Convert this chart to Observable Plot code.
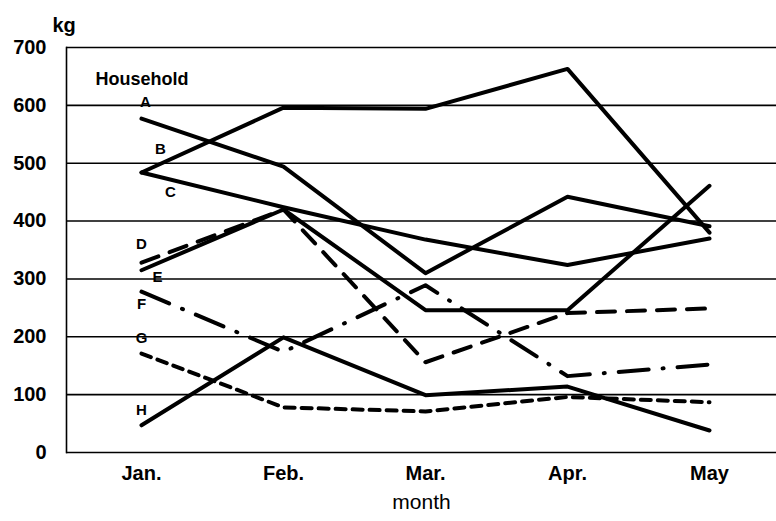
<!DOCTYPE html>
<html>
<head>
<meta charset="utf-8">
<script src="https://cdn.jsdelivr.net/npm/d3@7"></script>
<script src="https://cdn.jsdelivr.net/npm/@observablehq/plot@0.6"></script>
<style>
  html, body { margin: 0; padding: 0; background: #fff; }
  #chart svg { display: block; }
</style>
</head>
<body>
<div id="chart"></div>
<script>
const months = ["Jan.", "Feb.", "Mar.", "Apr.", "May"];
const households = ["A", "B", "C", "D", "E", "F", "G", "H"];
const seriesA = [577, 494, 310, 442, 391];
const seriesB = [484, 596, 594, 663, 380];
const seriesC = [484, 424, 368, 324, 370];
const seriesD = [328, 420, 156, 241, 249];
const seriesE = [315, 420, 246, 246, 461];
const seriesF = [278, 174, 289, 132, 152];
const seriesG = [171, 78, 71, 96, 87];
const seriesH = [47, 199, 99, 114, 38];
const yTicks = [0, 100, 200, 300, 400, 500, 600, 700];

const values = {A: seriesA, B: seriesB, C: seriesC, D: seriesD, E: seriesE, F: seriesF, G: seriesG, H: seriesH};
const rows = households.flatMap(h => months.map((m, i) => ({household: h, month: m, kg: values[h][i]})));
const firstPoints = households.map(h => ({household: h, month: months[0], kg: values[h][0]}));

const dash = {A: null, B: null, C: null, D: "18,12", E: null, F: "30,14,1,14", G: "10,7", H: null};
const labelOffset = {A: [4, -16], B: [19, -23], C: [29, 20], D: [0, -19], E: [16, 7], F: [0, 13], G: [0, -15], H: [0, -15]};

const font = "'Liberation Sans', Arial, sans-serif";

const lineMarks = households.map(h => Plot.lineY(rows.filter(d => d.household === h), {
  x: "month", y: "kg", stroke: "#000", strokeWidth: 4,
  strokeDasharray: dash[h] || undefined, strokeLinecap: "round", strokeLinejoin: "round"
}));

const labelMarks = households.map(h => Plot.text(firstPoints.filter(d => d.household === h), {
  x: "month", y: "kg", text: "household",
  dx: labelOffset[h][0], dy: labelOffset[h][1],
  fontSize: 15, fontWeight: "bold", fill: "#000"
}));

const chart = Plot.plot({
  width: 776,
  height: 521,
  marginLeft: 66,
  marginRight: 0,
  marginTop: 47,
  marginBottom: 69,
  style: {fontFamily: font, background: "#fff", color: "#000"},
  x: {type: "point", domain: months, range: [139, 710], padding: 0, label: null},
  y: {domain: [0, 700], label: null},
  marks: [
    Plot.gridY(yTicks, {stroke: "#000", strokeOpacity: 1, strokeWidth: 1.6}),
    Plot.frame({anchor: "left", stroke: "#000", strokeWidth: 1.6}),
    Plot.axisY(yTicks, {tickSize: 0, tickPadding: 20, fontSize: 20, fontWeight: "bold", label: null}),
    Plot.axisX({tickSize: 0, tickPadding: 13, fontSize: 20, fontWeight: "bold", label: null}),
    ...lineMarks,
    ...labelMarks,
    Plot.text(["Household"], {frameAnchor: "top-left", dx: 29, dy: 25, textAnchor: "start", fontSize: 18, fontWeight: "bold"}),
    Plot.text(["kg"], {frameAnchor: "top-left", dx: -14, dy: -30, fontSize: 20, fontWeight: "bold"}),
    Plot.text(["month"], {frameAnchor: "bottom", dx: 0, dy: 56, fontSize: 21})
  ]
});
document.getElementById("chart").appendChild(chart);
</script>
</body>
</html>
